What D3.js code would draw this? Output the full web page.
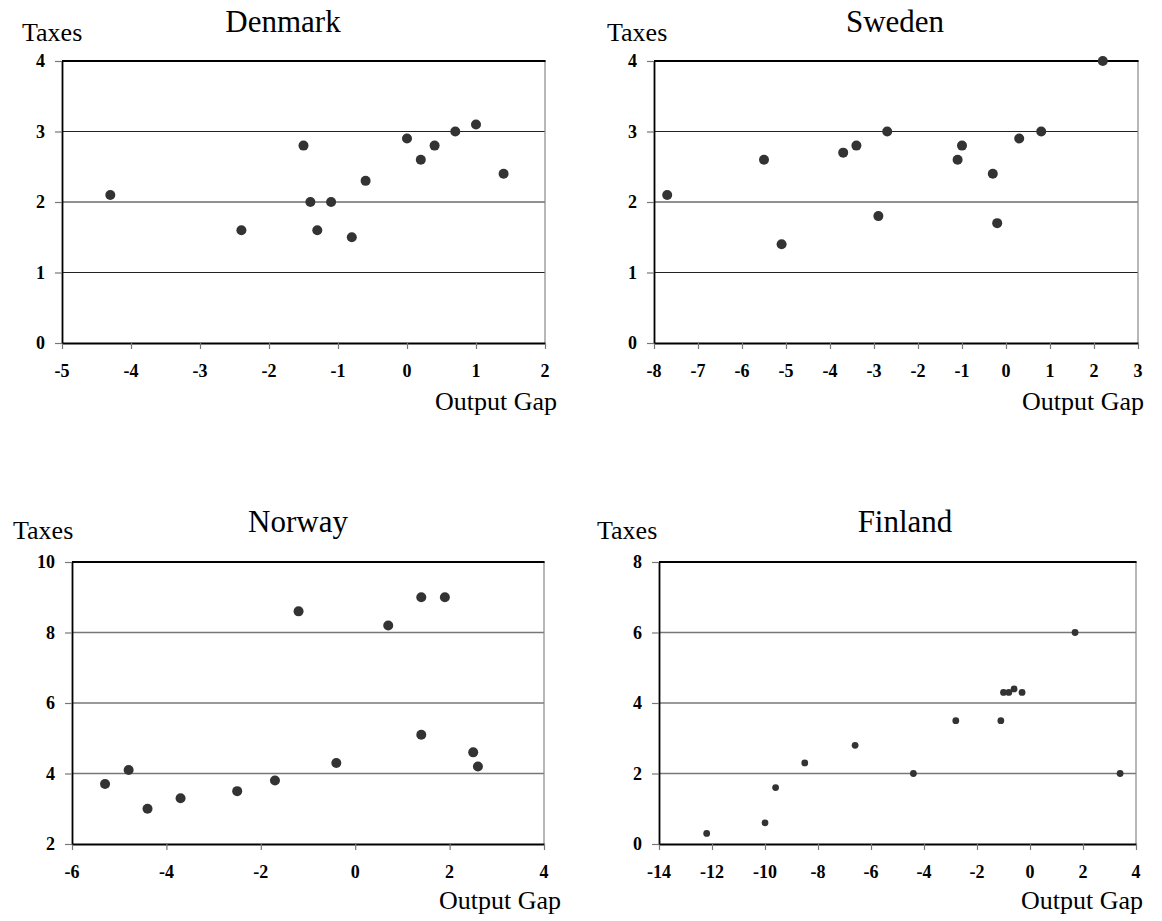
<!DOCTYPE html>
<html>
<head>
<meta charset="utf-8">
<script src="https://cdn.jsdelivr.net/npm/d3@7"></script>
<style>
  html, body { margin: 0; padding: 0; background: #fff; }
  svg { display: block; }
</style>
</head>
<body>
<svg id="chart" width="1162" height="921"></svg>
<script>
// ---- Data ----
const denmarkGap   = [-4.3, -2.4, -1.5, -1.4, -1.3, -1.1, -0.8, -0.6, 0.0, 0.2, 0.4, 0.7, 1.0, 1.4];
const denmarkTaxes = [ 2.1,  1.6,  2.8,  2.0,  1.6,  2.0,  1.5,  2.3, 2.9, 2.6, 2.8, 3.0, 3.1, 2.4];

const swedenGap   = [-7.7, -5.5, -5.1, -3.7, -3.4, -2.9, -2.7, -1.1, -1.0, -0.3, -0.2, 0.3, 0.8, 2.2];
const swedenTaxes = [ 2.1,  2.6,  1.4,  2.7,  2.8,  1.8,  3.0,  2.6,  2.8,  2.4,  1.7, 2.9, 3.0, 4.0];

const norwayGap   = [-5.3, -4.8, -4.4, -3.7, -2.5, -1.7, -1.2, -0.4, 0.7, 1.4, 1.4, 1.9, 2.5, 2.6];
const norwayTaxes = [ 3.7,  4.1,  3.0,  3.3,  3.5,  3.8,  8.6,  4.3, 8.2, 9.0, 5.1, 9.0, 4.6, 4.2];

const finlandGap   = [-12.2, -10.0, -9.6, -8.5, -6.6, -4.4, -2.8, -1.1, -1.0, -0.8, -0.6, -0.3, 1.7, 3.4];
const finlandTaxes = [  0.3,   0.6,  1.6,  2.3,  2.8,  2.0,  3.5,  3.5,  4.3,  4.3,  4.4,  4.3, 6.0, 2.0];

const countryNames = ["Denmark", "Sweden", "Norway", "Finland"];
const denmarkXTicks = [-5, -4, -3, -2, -1, 0, 1, 2];
const denmarkYTicks = [0, 1, 2, 3, 4];
const swedenXTicks  = [-8, -7, -6, -5, -4, -3, -2, -1, 0, 1, 2, 3];
const swedenYTicks  = [0, 1, 2, 3, 4];
const norwayXTicks  = [-6, -4, -2, 0, 2, 4];
const norwayYTicks  = [2, 4, 6, 8, 10];
const finlandXTicks = [-14, -12, -10, -8, -6, -4, -2, 0, 2, 4];
const finlandYTicks = [0, 2, 4, 6, 8];
const yLabel = "Taxes";
const xLabel = "Output Gap";

// ---- Layout ----
const panels = [
  { name: countryNames[0], gx: denmarkGap, gy: denmarkTaxes, xt: denmarkXTicks, yt: denmarkYTicks,
    left: 62, right: 545, top: 61, bottom: 343, titleX: 283, titleY: 32, taxX: 22, taxY: 41, ogX: 557, ogY: 410,
    r: 5, grid: "#222", gridW: 1 },
  { name: countryNames[1], gx: swedenGap, gy: swedenTaxes, xt: swedenXTicks, yt: swedenYTicks,
    left: 654, right: 1138, top: 61, bottom: 343, titleX: 895, titleY: 32, taxX: 607, taxY: 41, ogX: 1144, ogY: 410,
    r: 5, grid: "#222", gridW: 1 },
  { name: countryNames[2], gx: norwayGap, gy: norwayTaxes, xt: norwayXTicks, yt: norwayYTicks,
    left: 72, right: 544, top: 562, bottom: 844, titleX: 298, titleY: 532, taxX: 13, taxY: 539, ogX: 561, ogY: 909,
    r: 5, grid: "#777", gridW: 1.5 },
  { name: countryNames[3], gx: finlandGap, gy: finlandTaxes, xt: finlandXTicks, yt: finlandYTicks,
    left: 659, right: 1136, top: 562, bottom: 844, titleX: 905, titleY: 532, taxX: 597, taxY: 539, ogX: 1143, ogY: 909,
    r: 3.4, grid: "#777", gridW: 1.5 }
];

const serif = "'Liberation Serif', 'Times New Roman', Times, serif";
const svg = d3.select("#chart");
const fmt = d => d < 0 ? "-" + Math.abs(d) : String(d);

panels.forEach(p => {
  const x = d3.scaleLinear().domain(d3.extent(p.xt)).range([p.left, p.right]);
  const y = d3.scaleLinear().domain(d3.extent(p.yt)).range([p.bottom, p.top]);
  const g = svg.append("g");

  // horizontal gridlines (excluding bottom axis & top border)
  g.selectAll("line.grid")
    .data(p.yt.slice(1, -1))
    .join("line")
    .attr("class", "grid")
    .attr("x1", p.left).attr("x2", p.right)
    .attr("y1", d => y(d)).attr("y2", d => y(d))
    .attr("stroke", p.grid).attr("stroke-width", p.gridW);

  // right border
  g.append("line")
    .attr("x1", p.right).attr("x2", p.right)
    .attr("y1", p.top).attr("y2", p.bottom)
    .attr("stroke", "#888").attr("stroke-width", 1.2);

  // top border
  g.append("line")
    .attr("x1", p.left).attr("x2", p.right + 0.6)
    .attr("y1", y(p.yt[p.yt.length - 1])).attr("y2", y(p.yt[p.yt.length - 1]))
    .attr("stroke", "#000").attr("stroke-width", 2);

  // x axis (lines only)
  const xa = g.append("g")
    .attr("transform", `translate(0,${p.bottom})`)
    .call(d3.axisBottom(x).tickValues(p.xt).tickSize(6).tickSizeOuter(0).tickFormat(() => ""));
  xa.select(".domain").attr("stroke", "#000").attr("stroke-width", 1.8);
  xa.selectAll(".tick line").attr("stroke", "#777").attr("stroke-width", 1.2);
  xa.selectAll(".tick text").remove();

  // y axis (lines only)
  const ya = g.append("g")
    .attr("transform", `translate(${p.left},0)`)
    .call(d3.axisLeft(y).tickValues(p.yt).tickSize(7).tickSizeOuter(0).tickFormat(() => ""));
  ya.select(".domain").attr("stroke", "#000").attr("stroke-width", 1.8);
  ya.selectAll(".tick line").attr("stroke", "#777").attr("stroke-width", 1.2);
  ya.selectAll(".tick text").remove();

  // tick labels, drawn separately
  g.append("g").selectAll("text")
    .data(p.xt)
    .join("text")
    .attr("x", d => x(d))
    .attr("y", p.bottom + 34)
    .attr("text-anchor", "middle")
    .attr("font-family", serif).attr("font-size", 18).attr("font-weight", "bold").attr("fill", "#000")
    .text(fmt);

  g.append("g").selectAll("text")
    .data(p.yt)
    .join("text")
    .attr("x", p.left - 17)
    .attr("y", d => y(d) + 6)
    .attr("text-anchor", "end")
    .attr("font-family", serif).attr("font-size", 18).attr("font-weight", "bold").attr("fill", "#000")
    .text(fmt);

  // points
  g.selectAll("circle")
    .data(p.gx.map((v, i) => [v, p.gy[i]]))
    .join("circle")
    .attr("cx", d => x(d[0]))
    .attr("cy", d => y(d[1]))
    .attr("r", p.r)
    .attr("fill", "#333");

  // title
  g.append("text")
    .attr("x", p.titleX).attr("y", p.titleY)
    .attr("text-anchor", "middle")
    .attr("font-family", serif).attr("font-size", 31).attr("fill", "#000")
    .text(p.name);

  // y label
  g.append("text")
    .attr("x", p.taxX).attr("y", p.taxY)
    .attr("font-family", serif).attr("font-size", 26).attr("fill", "#000")
    .text(yLabel);

  // x label
  g.append("text")
    .attr("x", p.ogX).attr("y", p.ogY)
    .attr("text-anchor", "end")
    .attr("font-family", serif).attr("font-size", 26).attr("fill", "#000")
    .text(xLabel);
});
</script>
</body>
</html>
